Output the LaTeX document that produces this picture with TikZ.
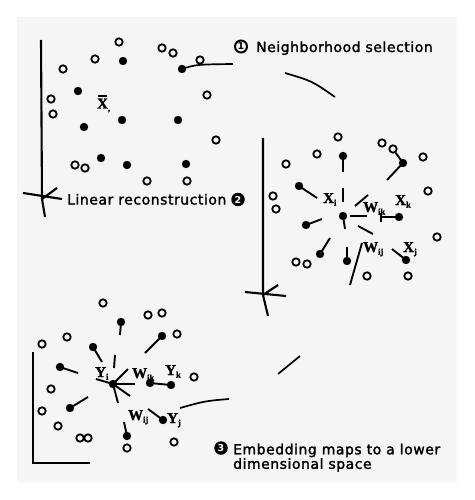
\documentclass[tikz,border=0pt]{standalone}
\usepackage{fontspec}
\newfontfamily\labfont[LetterSpace=4,FakeBold=1.8]{DejaVu Sans}
\newfontfamily\numfont{DejaVu Sans}
\newfontfamily\symfont[BoldFeatures={FakeBold=1.3}]{Liberation Serif}
\newcommand\mylbl[2]{{\symfont\bfseries #1\raisebox{-2.5bp}{\fontsize{8.5}{8.5}\selectfont #2}}}
\newcommand\mybarX{\rlap{\hspace{0.9bp}\rule[11.6bp]{9.2bp}{1.4bp}}X}
\begin{document}
\begin{tikzpicture}[x=1bp,y=-1bp,
  open/.style={circle,draw,line width=1.8bp,minimum size=7.4bp,inner sep=0pt},
  dot/.style={circle,fill,minimum size=8.4bp,inner sep=0pt},
  ln/.style={line width=1.9bp},
  axis/.style={line width=2.1bp},
  arcseg/.style={line width=1.7bp},
  lab/.style={font=\labfont\fontsize{14}{12.5}\selectfont,inner sep=0pt,anchor=base west,text=black},
  sym/.style={font=\fontsize{15}{15}\selectfont,inner sep=0pt,anchor=base west},
  numo/.style={circle,draw,line width=2bp,minimum size=12bp,inner sep=0pt,font=\numfont\bfseries\fontsize{9.5}{9.5}\selectfont},
  numf/.style={circle,fill,minimum size=13.5bp,inner sep=0pt,text=white,font=\numfont\bfseries\fontsize{9.5}{9.5}\selectfont},
]
\useasboundingbox (0,0) rectangle (475,500);
\fill[black!4] (17,17) rectangle (457,482);

% ---------------- panel 1 ----------------
\coordinate (a1t) at (41,40);
\coordinate (a1o) at (42,199);
\coordinate (a1b) at (45,217);
\coordinate (a1l) at (23,193);
\coordinate (a1r) at (62,199);
\coordinate (a1d) at (57,188);
\draw[axis] (a1t) -- (a1o) -- (a1b);
\draw[axis] (a1l) -- (a1r);
\draw[axis] (a1o) -- (a1d);

\foreach \x/\y [count=\i] in {119/42,95/59,63/69,51/99,53/114,162/48,173/53,200/60,207/95,216/140,75/165,85/168,147/181,187/181}
  \node[open] (p\i) at (\x,\y) {};
\foreach \x/\y [count=\i] in {123/61,78/91,122/120,84/127,178/120,101/158,127/165,186/164}
  \node[dot] (q\i) at (\x,\y) {};
\node[dot] (q9) at (182,69) {};
\coordinate (s1e) at (233,64);
\draw[arcseg] (q9.center) .. controls (196,64.5) .. (s1e);

\node[sym] (x1) at (97,108.5) {\mylbl{\mybarX}{,}};

\node[numo] (n1) at (241,46.5) {1};
\node[lab] (t1) at (256,52) {Neighborhood selection};
\node[lab] (t2) at (67,204.5) {Linear reconstruction};
\node[numf] (n2) at (238,199.5) {2};

\coordinate (s2a) at (285,73);
\coordinate (s2b) at (335,97);
\draw[arcseg] (s2a) .. controls (312,81) .. (s2b);

% ---------------- panel 2 ----------------
\coordinate (a2t) at (263,138);
\coordinate (a2o) at (263,295);
\coordinate (a2b) at (268,316);
\coordinate (a2l) at (245,292);
\coordinate (a2r) at (286,296);
\coordinate (a2d) at (278,285);
\draw[axis] (a2t) -- (a2o) -- (a2b);
\draw[axis] (a2l) -- (a2r);
\draw[axis] (a2o) -- (a2d);

\foreach \x/\y [count=\i] in {338/137,317/154,286/164,382/143,393/149,423/157,428/191,273/196,276/209,296/262,307/264,437/237,367/276,408/276}
  \node[open] (r\i) at (\x,\y) {};
\node[dot] (c2) at (343,216) {};
\foreach \nm/\x/\y/\ex/\ey in {u1/343/156/343/172, u2/299/186/317/198, u3/403/163/387/180, u4/306/225/322/219, u5/320/254/330/238, u6/347/261/347/247, u7/406/260/392/249, u8/399/217/382/217}
{
  \node[dot] (\nm) at (\x,\y) {};
  \coordinate (\nm e) at (\ex,\ey);
  \draw[ln] (\nm.center) -- (\nm e);
}
\draw[ln] (r5) -- (u3.center);
\coordinate (tk1) at (381,212.5);
\coordinate (tk2) at (381,221.5);
\draw[ln] (tk1) -- (tk2);
\coordinate (v1a) at (343,188); \coordinate (v1b) at (343,202);
\coordinate (v2b) at (345,229);
\coordinate (v3a) at (350,216); \coordinate (v3b) at (367,216);
\coordinate (v4a) at (355,206); \coordinate (v4b) at (368,195);
\coordinate (v5a) at (358,226); \coordinate (v5b) at (373,234);
\coordinate (v6a) at (362,243); \coordinate (v6b) at (350,285);
\draw[ln] (v1a) -- (v1b);
\draw[ln] (c2.center) -- (v2b);
\draw[ln] (v3a) -- (v3b);
\draw[ln] (v4a) -- (v4b);
\draw[ln] (v5a) -- (v5b);
\draw[ln] (v6a) -- (v6b);

\node[sym] (x2i) at (323,203) {\mylbl{X}{i}};
\node[sym] (w2k) at (363,212) {\mylbl{W}{ik}};
\node[sym] (x2k) at (395,205) {\mylbl{X}{k}};
\node[sym] (w2j) at (363,252) {\mylbl{W}{ij}};
\node[sym] (x2j) at (403,252) {\mylbl{X}{j}};

% ---------------- panel 3 ----------------
\coordinate (a3t) at (33,352);
\coordinate (a3o) at (33,463);
\coordinate (a3r) at (90,463);
\draw[axis] (a3t) -- (a3o) -- (a3r);

\foreach \x/\y [count=\i] in {103/303,148/315,162/313,67/337,177/334,42/344,51/389,194/377,42/411,58/426,80/438,88/438,127/448,174/442}
  \node[open] (m\i) at (\x,\y) {};
\node[dot] (c3) at (113,384) {};
\foreach \nm/\x/\y/\ex/\ey in {k1/121/322/120/335, k2/162/336/145/353, k3/93/347/102/362, k4/60/367/78/373, k5/70/408/88/397, k6/163/420/148/409, k7/127/436/124/422}
{
  \node[dot] (\nm) at (\x,\y) {};
  \coordinate (\nm e) at (\ex,\ey);
  \draw[ln] (\nm.center) -- (\nm e);
}
\node[dot] (k8) at (150,383) {};
\node[dot] (k9) at (171,385) {};
\draw[ln] (k8.center) -- (k9.center);
\coordinate (h1a) at (115,355); \coordinate (h1b) at (114,368);
\coordinate (h2) at (128,369);
\coordinate (h3) at (135,384);
\coordinate (h4) at (130,396);
\coordinate (h5) at (118,403);
\coordinate (h6) at (96,379);
\draw[ln] (h1a) -- (h1b);
\draw[ln] (c3.center) -- (h2);
\draw[ln] (c3.center) -- (h3);
\draw[ln] (c3.center) -- (h4);
\draw[ln] (c3.center) -- (h5);
\draw[ln] (c3.center) -- (h6);

\node[sym] (y3i) at (95,377) {\mylbl{Y}{i}};
\node[sym] (w3k) at (132,378) {\mylbl{W}{ik}};
\node[sym] (y3k) at (165,375) {\mylbl{Y}{k}};
\node[sym] (w3j) at (128,420) {\mylbl{W}{ij}};
\node[sym] (y3j) at (167,423) {\mylbl{Y}{j}};

\coordinate (s3a) at (278,374);
\coordinate (s3b) at (300,356);
\draw[arcseg] (s3a) -- (s3b);
\coordinate (s4a) at (180,408);
\coordinate (s4b) at (229,399);
\draw[arcseg] (s4a) .. controls (205,401) .. (s4b);

\node[numf] (n3) at (221,448) {3};
\node[lab,align=left,anchor=north west] (t3) at (233,443.5) {Embedding maps to a lower\\dimensional space};
\end{tikzpicture}
\end{document}
